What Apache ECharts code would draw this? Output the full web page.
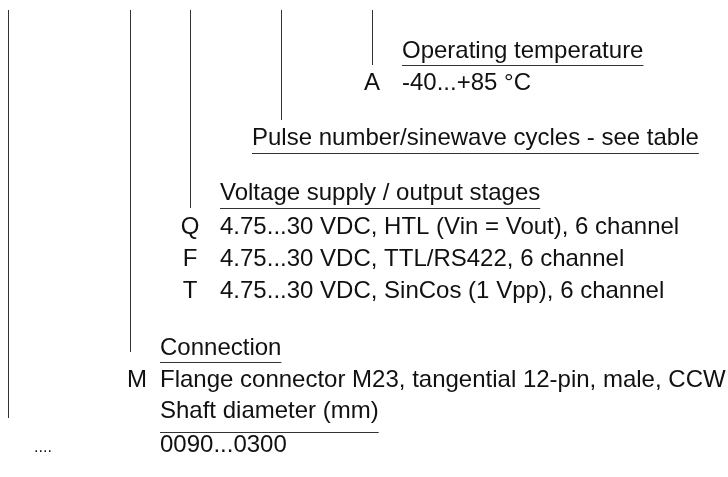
<!DOCTYPE html>
<html>
<head>
<meta charset="utf-8">
<style>
  html, body { margin: 0; padding: 0; background: #fff; }
  #chart { width: 728px; height: 477px; }
</style>
<script src="https://cdn.jsdelivr.net/npm/echarts@6/dist/echarts.min.js"></script>
</head>
<body>
<div id="chart"></div>
<script>
// order code sections, from the first digit (left) to the last (right)
const sectionTitles = [
  'Shaft diameter (mm)',
  'Connection',
  'Voltage supply / output stages',
  'Pulse number/sinewave cycles - see table',
  'Operating temperature'
]
const optionCodes = [
  ['....'],
  ['M'],
  ['Q', 'F', 'T'],
  [],
  ['A']
]
const optionTexts = [
  ['0090...0300'],
  ['Flange connector M23, tangential 12-pin, male, CCW'],
  [
    '4.75...30 VDC, HTL (Vin = Vout), 6 channel',
    '4.75...30 VDC, TTL/RS422, 6 channel',
    '4.75...30 VDC, SinCos (1 Vpp), 6 channel'
  ],
  [],
  ['-40...+85 °C']
]

// layout in chart units (x 0..728, y 0..477 from the top)
const stemX = [8, 130, 190, 281, 372]
const stemTopY = 10
const stemEndY = [418, 352, 208, 120, 65]
const headingX = [160, 160, 220, 252, 402]
const headingY = [411, 348, 193, 138, 51]
const underlineGap = [21, 14, 15, 15, 14]
const codeX = [43, 137, 190, 0, 372]
const codeFontSize = [16, 24, 24, 24, 24]
const optionRowY = [[445], [380], [227, 259, 291], [], [83]]

const FONT_FAMILY = '"Liberation Sans", Arial, sans-serif'
const FONT = `24px ${FONT_FAMILY}`
const TEXT_COLOR = '#111'
const LINE_COLOR = '#333'

const measureCtx = document.createElement('canvas').getContext('2d')
const textWidth = (text) => {
  measureCtx.font = FONT
  return measureCtx.measureText(text).width
}

const renderSection = (params, api) => {
  const i = api.value(0)
  const [sx, top] = api.coord([stemX[i], stemTopY])
  const bottom = api.coord([stemX[i], stemEndY[i]])[1]
  const [hx, hy] = api.coord([headingX[i], headingY[i]])
  const underlineY = Math.round(hy + underlineGap[i]) + 0.5
  const children = [
    {
      type: 'line',
      shape: { x1: Math.round(sx) + 0.5, y1: top, x2: Math.round(sx) + 0.5, y2: bottom },
      style: { stroke: LINE_COLOR, lineWidth: 1 }
    },
    {
      type: 'text',
      x: hx,
      y: hy,
      style: { text: sectionTitles[i], font: FONT, fill: TEXT_COLOR, align: 'left', verticalAlign: 'middle' }
    },
    {
      type: 'line',
      shape: { x1: hx, y1: underlineY, x2: hx + textWidth(sectionTitles[i]), y2: underlineY },
      style: { stroke: LINE_COLOR, lineWidth: 1 }
    }
  ]
  optionTexts[i].forEach((text, j) => {
    const [cx, cy] = api.coord([codeX[i], optionRowY[i][j]])
    // smaller code glyphs sit on the same baseline as the description
    const codeShift = (24 - codeFontSize[i]) * 0.35
    children.push({
      type: 'text',
      x: cx,
      y: cy + codeShift,
      style: {
        text: optionCodes[i][j],
        font: `${codeFontSize[i]}px ${FONT_FAMILY}`,
        fill: TEXT_COLOR,
        align: 'center',
        verticalAlign: 'middle'
      }
    })
    children.push({
      type: 'text',
      x: hx,
      y: cy,
      style: { text, font: FONT, fill: TEXT_COLOR, align: 'left', verticalAlign: 'middle' }
    })
  })
  return { type: 'group', children }
}

const chart = echarts.init(document.getElementById('chart'), null, { renderer: 'canvas' })
chart.setOption({
  backgroundColor: '#fff',
  animation: false,
  grid: { left: 0, right: 0, top: 0, bottom: 0 },
  xAxis: { type: 'value', min: 0, max: 728, show: false },
  yAxis: { type: 'value', min: 0, max: 477, inverse: true, show: false },
  series: [
    {
      type: 'custom',
      coordinateSystem: 'cartesian2d',
      renderItem: renderSection,
      data: sectionTitles.map((title, i) => [i]),
      silent: true
    }
  ]
})
</script>
</body>
</html>
